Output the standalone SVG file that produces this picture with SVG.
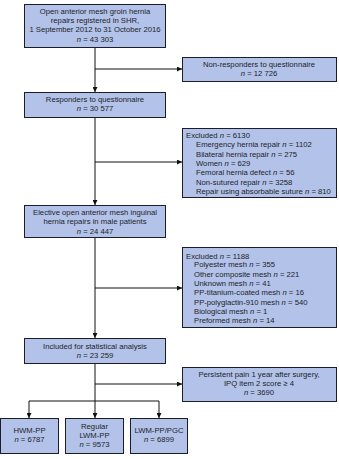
<svg xmlns="http://www.w3.org/2000/svg" width="339" height="459" viewBox="0 0 339 459">
<style>
.box{fill:#b2c2e8;stroke:#1c1c2a;stroke-width:1}
text{font-family:"Liberation Sans",Arial,sans-serif;font-size:7.7px;fill:#1e1e2a}
.c{text-anchor:middle}
.i{font-style:italic}
.ln{fill:none;stroke:#111;stroke-width:1}
</style>
<defs>
<marker id="ah" viewBox="0 0 6 6" refX="6" refY="3" markerWidth="5" markerHeight="5" orient="auto" markerUnits="userSpaceOnUse">
<path d="M0,0 L6,3 L0,6 z" fill="#111"/>
</marker>
</defs>
<rect width="339" height="459" fill="#fff"/>
<g id="connectors">
<path class="ln" d="M95,47 V92" marker-end="url(#ah)"/>
<path class="ln" d="M95,69 H182" marker-end="url(#ah)"/>
<path class="ln" d="M95,117 V205" marker-end="url(#ah)"/>
<path class="ln" d="M95,162 H182" marker-end="url(#ah)"/>
<path class="ln" d="M95,237 V338" marker-end="url(#ah)"/>
<path class="ln" d="M95,288 H182" marker-end="url(#ah)"/>
<path class="ln" d="M95,363 V418" marker-end="url(#ah)"/>
<path class="ln" d="M95,384 H182" marker-end="url(#ah)"/>
<path class="ln" d="M29,401 H159 V418" marker-end="url(#ah)"/>
<path class="ln" d="M29,401 V418" marker-end="url(#ah)"/>
</g>
<g id="n1">
<rect class="box" x="24.5" y="4.5" width="141" height="43"/>
<text class="c" x="95" y="14">Open anterior mesh groin hernia</text>
<text class="c" x="95" y="23">repairs registered in SHR,</text>
<text class="c" x="95" y="32">1 September 2012 to 31 October 2016</text>
<text class="c" x="95" y="41.5"><tspan class="i">n</tspan> = 43 303</text>
</g>
<g id="n2">
<rect class="box" x="182.5" y="57.5" width="154" height="24"/>
<text class="c" x="259" y="67">Non-responders to questionnaire</text>
<text class="c" x="259" y="76"><tspan class="i">n</tspan> = 12 726</text>
</g>
<g id="n3">
<rect class="box" x="24.5" y="92.5" width="141" height="25"/>
<text class="c" x="95" y="102">Responders to questionnaire</text>
<text class="c" x="95" y="111"><tspan class="i">n</tspan> = 30 577</text>
</g>
<g id="n4">
<rect class="box" x="182.5" y="128.5" width="154" height="69"/>
<text x="186" y="138">Excluded <tspan class="i">n</tspan> = 6130</text>
<text x="196" y="147.3">Emergency hernia repair <tspan class="i">n</tspan> = 1102</text>
<text x="196" y="156.6">Bilateral hernia repair <tspan class="i">n</tspan> = 275</text>
<text x="196" y="165.9">Women <tspan class="i">n</tspan> = 629</text>
<text x="196" y="175.2">Femoral hernia defect <tspan class="i">n</tspan> = 56</text>
<text x="196" y="184.5">Non-sutured repair <tspan class="i">n</tspan> = 3258</text>
<text x="196" y="193.8">Repair using absorbable suture <tspan class="i">n</tspan> = 810</text>
</g>
<g id="n5">
<rect class="box" x="24.5" y="205.5" width="141" height="32"/>
<text class="c" x="95" y="215">Elective open anterior mesh inguinal</text>
<text class="c" x="95" y="224">hernia repairs in male patients</text>
<text class="c" x="95" y="234"><tspan class="i">n</tspan> = 24 447</text>
</g>
<g id="n6">
<rect class="box" x="182.5" y="247.5" width="154" height="80"/>
<text x="186" y="258.5">Excluded <tspan class="i">n</tspan> = 1188</text>
<text x="194" y="267.3">Polyester mesh <tspan class="i">n</tspan> = 355</text>
<text x="194" y="276.6">Other composite mesh <tspan class="i">n</tspan> = 221</text>
<text x="194" y="285.9">Unknown mesh <tspan class="i">n</tspan> = 41</text>
<text x="194" y="295.2">PP-titanium-coated mesh <tspan class="i">n</tspan> = 16</text>
<text x="194" y="304.5">PP-polyglactin-910 mesh <tspan class="i">n</tspan> = 540</text>
<text x="194" y="313.8">Biological mesh <tspan class="i">n</tspan> = 1</text>
<text x="194" y="323.1">Preformed mesh <tspan class="i">n</tspan> = 14</text>
</g>
<g id="n7">
<rect class="box" x="24.5" y="338.5" width="141" height="25"/>
<text class="c" x="95" y="349">Included for statistical analysis</text>
<text class="c" x="95" y="357.5"><tspan class="i">n</tspan> = 23 259</text>
</g>
<g id="n8">
<rect class="box" x="182.5" y="367.5" width="154" height="34"/>
<text class="c" x="259" y="377">Persistent pain 1 year after surgery,</text>
<text class="c" x="259" y="386">IPQ item 2 score ≥ 4</text>
<text class="c" x="259" y="395"><tspan class="i">n</tspan> = 3690</text>
</g>
<g id="n9">
<rect class="box" x="0.5" y="418.5" width="58" height="35"/>
<text class="c" x="29.5" y="433">HWM-PP</text>
<text class="c" x="29.5" y="441.5"><tspan class="i">n</tspan> = 6787</text>
</g>
<g id="n10">
<rect class="box" x="65.5" y="418.5" width="58" height="35"/>
<text class="c" x="94.5" y="429">Regular</text>
<text class="c" x="94.5" y="438">LWM-PP</text>
<text class="c" x="94.5" y="447"><tspan class="i">n</tspan> = 9573</text>
</g>
<g id="n11">
<rect class="box" x="130.5" y="418.5" width="57" height="35"/>
<text class="c" x="159" y="433">LWM-PP/PGC</text>
<text class="c" x="159" y="442"><tspan class="i">n</tspan> = 6899</text>
</g>
</svg>
